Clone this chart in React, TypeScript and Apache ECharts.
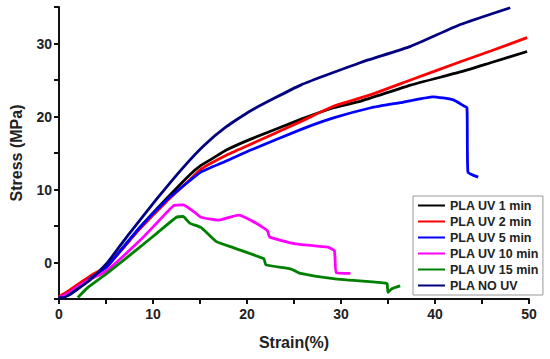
import React, { useEffect, useRef } from "react";
import * as echarts from "echarts";

const seriesNames = ["PLA UV 1 min", "PLA UV 2 min", "PLA UV 5 min", "PLA UV 10 min", "PLA UV 15 min", "PLA NO UV"];
const seriesColors = ["#000000", "#ff0000", "#0000ff", "#ff00ff", "#008000", "#000080"];

const uv1: number[][] = [
  [0, -4.8], [1, -4.3], [2, -3.3], [3.5, -1.9], [5.1, -0.5], [8.6, 4.8], [11.4, 8.7], [13.9, 12.0],
  [15.1, 13.3], [16.4, 14.3], [17.8, 15.4], [20.4, 16.9], [25.7, 19.6], [29.2, 21.2], [32.1, 22.1],
  [37.4, 24.3], [42.7, 26.1], [46.0, 27.4], [49.8, 28.9],
];
const uv2: number[][] = [
  [0, -4.7], [1, -3.9], [2, -3.0], [3.5, -1.7], [5.1, -0.5], [8.6, 4.6], [11.4, 8.3], [13.9, 11.3],
  [15.1, 12.8], [17.8, 14.7], [20.4, 16.2], [25.7, 19.3], [29.2, 21.4], [33.2, 23.0], [37.4, 25.0],
  [42.7, 27.5], [46.0, 29.0], [49.8, 30.8],
];
const uv5: number[][] = [
  [0, -4.9], [1, -4.5], [2, -3.6], [3.5, -2.0], [5.1, -0.6], [8.6, 4.8], [11.4, 8.5], [13.9, 11.2],
  [15.1, 12.4], [17.8, 13.9], [20.4, 15.4], [25.7, 18.2], [29.2, 19.8], [33.2, 21.2], [36.3, 21.9],
  [39.8, 22.7], [41.9, 22.3], [43.0, 21.5], [43.4, 21.2], [43.5, 12.4], [44.6, 11.7],
];
const uv10: number[][] = [
  [0, -4.8], [1, -4.2], [2, -3.3], [3.5, -2.2], [5.1, -1.1], [8.6, 3.0], [10.4, 5.4], [12.2, 7.8],
  [13.2, 7.9], [14.6, 6.7], [15.1, 6.2], [16.9, 5.8], [19.1, 6.5], [20.4, 5.8], [21.8, 4.7],
  [22.2, 4.3], [22.4, 3.5], [25.0, 2.6], [28.6, 2.1], [29.3, 1.6], [29.5, -1.4], [31.0, -1.5],
];
const uv15: number[][] = [
  [2, -4.8], [3, -3.5], [5.1, -1.5], [8.6, 2.1], [10.4, 4.0], [12.5, 6.2], [13.2, 6.3], [13.9, 5.4],
  [15.1, 4.8], [16.7, 2.9], [18.6, 2.0], [21.8, 0.5], [22.0, -0.3], [24.7, -0.9], [25.7, -1.5],
  [29.2, -2.2], [34.5, -2.8], [34.9, -2.9], [35.0, -4.1], [35.4, -3.6], [36.3, -3.2],
];
const noUv: number[][] = [
  [0, -4.8], [0.5, -4.8], [2, -3.6], [3.3, -2.4], [5.1, -0.1], [6.5, 2.3], [7.5, 4.0], [10.4, 8.7],
  [13.2, 13.0], [15.4, 16.0], [17.8, 18.6], [20.4, 20.8], [25.7, 24.3], [32.1, 27.4], [37.4, 29.6],
  [42.7, 32.6], [48.0, 34.9],
];
const allData = [uv1, uv2, uv5, uv10, uv15, noUv];

const xTicks = { min: 0, max: 50, interval: 5 };
const yTicks = { min: -5, max: 35, interval: 5 };

const FONT = "'Liberation Sans', Arial, sans-serif";

export default function App() {
  const ref = useRef<HTMLDivElement>(null);
  useEffect(() => {
    if (!ref.current) return;
    const chart = echarts.init(ref.current, undefined, { renderer: "svg" });
    const axisCommon = {
      axisLine: { show: true, onZero: false, lineStyle: { color: "#111", width: 2 } },
      axisTick: { show: true, inside: false, length: 5, lineStyle: { color: "#111", width: 2 } },
      splitLine: { show: false },
      nameTextStyle: { fontFamily: FONT, fontWeight: "bold", fontSize: 16, color: "#222" },
    };
    chart.setOption({
      animation: false,
      backgroundColor: "#ffffff",
      grid: { left: 57, right: 21, top: 7, bottom: 60 },
      legend: {
        orient: "vertical",
        left: 413,
        top: 196,
        data: seriesNames,
        icon: "rect",
        itemWidth: 27,
        itemHeight: 2,
        itemGap: 3,
        padding: [3, 4, 3, 5],
        borderColor: "#999",
        borderWidth: 1,
        backgroundColor: "#fff",
        textStyle: { fontFamily: FONT, fontWeight: "bold", fontSize: 12.5, lineHeight: 13, color: "#222" },
      },
      xAxis: {
        type: "value",
        ...xTicks,
        name: "Strain(%)",
        nameLocation: "middle",
        nameGap: 35,
        ...axisCommon,
        axisLabel: {
          margin: 8,
          fontFamily: FONT,
          fontWeight: "bold",
          fontSize: 14,
          color: "#222",
          formatter: (v: number) => (v % 10 === 0 ? String(v) : ""),
        },
      },
      yAxis: {
        type: "value",
        ...yTicks,
        name: "Stress (MPa)",
        nameLocation: "middle",
        nameGap: 35,
        nameRotate: 90,
        ...axisCommon,
        axisLabel: {
          margin: 7,
          fontFamily: FONT,
          fontWeight: "bold",
          fontSize: 14,
          color: "#222",
          formatter: (v: number) => (v >= 0 && v % 10 === 0 ? String(v) : ""),
        },
      },
      series: seriesNames.map((name, i) => ({
        name,
        type: "line",
        data: allData[i],
        symbol: "none",
        showSymbol: false,
        smooth: 0.15,
        clip: true,
        color: seriesColors[i],
        lineStyle: { color: seriesColors[i], width: 2.8 },
      })),
    });
    return () => chart.dispose();
  }, []);
  return <div ref={ref} style={{ position: "fixed", left: 0, top: 0, width: 550, height: 359, background: "#fff" }} />;
}
